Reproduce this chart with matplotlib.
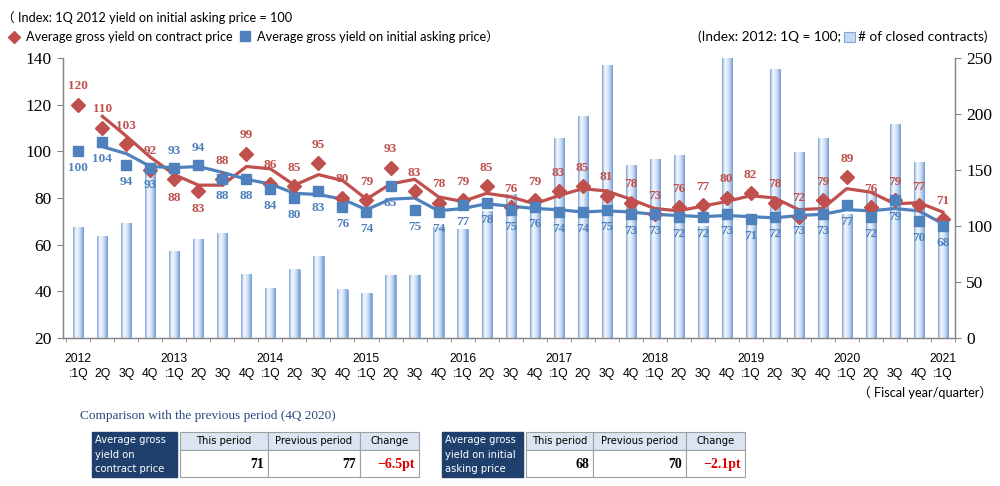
import numpy as np
import pandas as pd
import matplotlib
matplotlib.use('Agg')
import matplotlib.pyplot as plt
from matplotlib.patches import Rectangle
from matplotlib.lines import Line2D
from matplotlib.colors import LinearSegmentedColormap

# ---- data (2012 1Q .. 2021 1Q) ----
years = [2012, 2013, 2014, 2015, 2016, 2017, 2018, 2019, 2020, 2021]
quarters = ['1Q', '2Q', '3Q', '4Q']
contract_yield = [120, 110, 103, 92, 88, 83, 88, 99, 86, 85, 95, 80, 79, 93, 83, 78, 79, 85, 76,
                  79, 83, 85, 81, 78, 73, 76, 77, 80, 82, 78, 72, 79, 89, 76, 79, 77, 71]
asking_yield = [100, 104, 94, 93, 93, 94, 88, 88, 84, 80, 83, 76, 74, 85, 75, 74, 77, 78, 75,
                76, 74, 74, 75, 73, 73, 72, 72, 73, 71, 72, 73, 73, 77, 72, 79, 70, 68]
closed_contracts = [99, 91, 102, 147, 77, 88, 93, 57, 44, 61, 73, 43, 40, 56, 56, 99, 97, 113, 128,
                    111, 178, 198, 243, 154, 159, 163, 100, 250, 105, 240, 166, 178, 110, 131, 191, 157, 102]
# quarters where the labels sit the other way round (blue above, red below)
flipped_labels = [4, 5]

tbl_headers = ['This period', 'Previous period', 'Change']
contract_cmp = ['71', '77', '\u22126.5pt']
asking_cmp = ['68', '70', '\u22122.1pt']

RED = '#c0504d'
BLUE = '#4f81bd'
GRID = '#868686'

n = len(contract_yield)
x = np.arange(n)
xlabels = []
for i in range(n):
    q = quarters[i % 4]
    if i % 4 == 0:
        xlabels.append('%d\n:%s' % (years[i // 4], q))
    else:
        xlabels.append('\n' + q)

contract_ma = pd.Series(contract_yield).rolling(2).mean()
asking_ma = pd.Series(asking_yield).rolling(2).mean()

fig = plt.figure(figsize=(10, 4.86), dpi=100)
ax1 = fig.add_axes([0.063, 1 - 338 / 486, 0.892, 280 / 486])
ax2 = ax1.twinx()
ax1.set_zorder(2)
ax2.set_zorder(1)
ax1.patch.set_visible(False)

# bars with horizontal gradient
bars = ax2.bar(x, closed_contracts, width=0.42, color='#c6d9f1', edgecolor='#7ea6d8', linewidth=0.6, zorder=1)
cmap = LinearSegmentedColormap.from_list('barg', ['#7aa3d8', '#f2f6fc', '#e3ecf8', '#b2cbea', '#6f9bd6'])
grad = np.linspace(0, 1, 60).reshape(1, -1)
for b in bars:
    ax2.imshow(grad, extent=[b.get_x(), b.get_x() + b.get_width(), 0, b.get_height()],
               aspect='auto', cmap=cmap, zorder=1.5, interpolation='bilinear')

# lines + markers
ax1.plot(x, contract_ma, color=RED, lw=2.3, zorder=3)
ax1.plot(x, asking_ma, color=BLUE, lw=2.3, zorder=3)
ax1.plot(x, contract_yield, ls='none', marker='D', ms=7.5, color=RED, zorder=4)
ax1.plot(x, asking_yield, ls='none', marker='s', ms=7.5, color=BLUE, zorder=4)

for i in range(n):
    up = -1 if i in flipped_labels else 1
    ax1.annotate(str(contract_yield[i]), (x[i], contract_yield[i]), xytext=(0, 9 * up), textcoords='offset points',
                 ha='center', va='bottom' if up > 0 else 'top', color=RED, fontweight='bold',
                 family='Liberation Serif', fontsize=9.5, zorder=5)
    ax1.annotate(str(asking_yield[i]), (x[i], asking_yield[i]), xytext=(0, -8 * up), textcoords='offset points',
                 ha='center', va='top' if up > 0 else 'bottom', color=BLUE, fontweight='bold',
                 family='Liberation Serif', fontsize=9.5, zorder=5)

ax1.set_xlim(-0.64, 36.51)
ax1.set_ylim(20, 140)
ax1.set_yticks(np.arange(20, 141, 20))
ax2.set_ylim(0, 250)
ax2.set_yticks(np.arange(0, 251, 50))

ax1.set_xticks(x)
ax1.set_xticklabels(xlabels, family='Liberation Sans', fontsize=8.8, linespacing=1.3)
ax1.set_xticks(np.arange(-0.5, 36.6, 1), minor=True)
ax1.tick_params(axis='x', which='major', length=0, pad=11)
ax1.tick_params(axis='x', which='minor', length=3, color=GRID, direction='out')
ax1.tick_params(axis='y', length=4, color=GRID, pad=4)
ax2.tick_params(axis='y', length=4, color=GRID, pad=4)
for lab in ax1.get_yticklabels() + ax2.get_yticklabels():
    lab.set_family('Liberation Serif')
    lab.set_fontsize(12.5)

for ax in (ax1, ax2):
    ax.spines['top'].set_visible(False)
    for s in ('left', 'right', 'bottom'):
        ax.spines[s].set_color(GRID)
        ax.spines[s].set_linewidth(0.9)

# ---- overlay for headers and tables (pixel coords) ----
ov = fig.add_axes([0, 0, 1, 1], zorder=10)
ov.set_xlim(0, 1000)
ov.set_ylim(486, 0)
ov.axis('off')
hf = ['Lato', 'Noto Sans CJK JP']
hs = 9.2

ov.text(2, 18, '\uff08 Index: 1Q 2012 yield on initial asking price = 100', family=hf, fontsize=hs, va='center', ha='left')
ov.add_line(Line2D([14], [37], marker='D', ms=6.5, color=RED, ls='none'))
ov.text(26, 37, 'Average gross yield on contract price', family=hf, fontsize=hs, va='center', ha='left')
ov.add_patch(Rectangle((240, 31), 10, 10, color=BLUE))
ov.text(257, 37, 'Average gross yield on initial asking price\uff09', family=hf, fontsize=hs, va='center', ha='left')

ov.text(698, 37, '(Index: 2012: 1Q = 100;', family=hf, fontsize=9.8, va='center', ha='left')
ov.add_patch(Rectangle((844, 32), 11, 10, facecolor='#c6d9f1', edgecolor='#7ea6d8', lw=0.8))
ov.text(858, 37, '# of closed contracts)', family=hf, fontsize=9.8, va='center', ha='left')
ov.text(992, 393, '\uff08 Fiscal year/quarter\uff09', family=hf, fontsize=hs, va='center', ha='right')

ov.text(80, 416, 'Comparison with the previous period (4Q 2020)', family='Liberation Serif', fontsize=9.5,
        color='#2b4a7e', va='center', ha='left')


def draw_table(x0, x_cols, title_lines, values):
    # dark title cell
    ov.add_patch(Rectangle((x0, 432), x_cols[0] - 3 - x0, 45, facecolor='#1f3f6d', edgecolor='#1f3f6d'))
    for k, t in enumerate(title_lines):
        ov.text(x0 + 3, 440 + k * 14.5, t, color='white', family='DejaVu Sans', fontsize=7.2, va='center', ha='left')
    for j in range(3):
        left, right = x_cols[j], x_cols[j + 1]
        ov.add_patch(Rectangle((left, 432), right - left, 18, facecolor='#dbe5f1', edgecolor='#a0a0a0', lw=0.8))
        ov.add_patch(Rectangle((left, 450), right - left, 27, facecolor='white', edgecolor='#a0a0a0', lw=0.8))
        ov.text((left + right) / 2, 441, tbl_headers[j], family='DejaVu Sans', fontsize=7.2, va='center', ha='center')
        ov.text(right - 4, 464, values[j], family='Liberation Serif', fontweight='bold', fontsize=10,
                color='#e00000' if j == 2 else 'black', va='center', ha='right')


draw_table(92, [180, 268, 360, 419], ['Average gross', 'yield on', 'contract price'], contract_cmp)
draw_table(442, [526, 593, 686, 745], ['Average gross', 'yield on initial', 'asking price'], asking_cmp)

fig.savefig('out.png', dpi=100)
